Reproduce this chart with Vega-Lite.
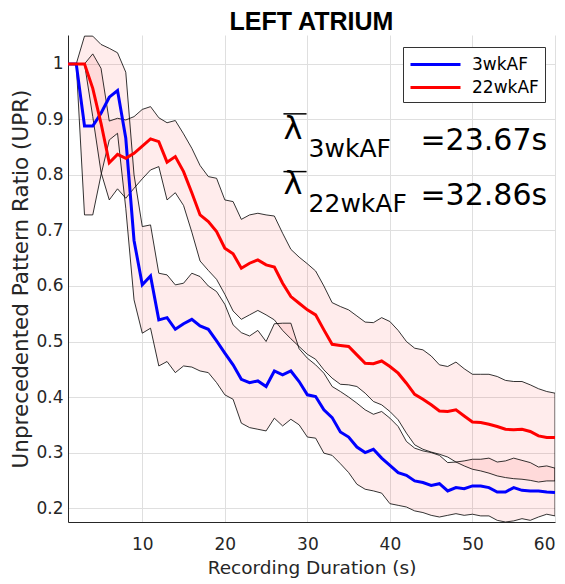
{
  "$schema": "https://vega.github.io/schema/vega-lite/v6.json",
  "width": 487,
  "height": 487,
  "autosize": {"type": "none"},
  "padding": {"left": 68, "top": 35, "right": 10, "bottom": 62},
  "background": "white",
  "title": {"text": "LEFT ATRIUM", "fontSize": 25, "font": "Liberation Sans", "fontWeight": "bold", "color": "black", "anchor": "middle", "baseline": "alphabetic", "offset": 5, "dy": 25},
  "config": {
    "view": {"stroke": null},
    "axis": {
      "labelFont": "DejaVu Sans", "labelFontSize": 17, "labelColor": "#262626",
      "titleFont": "DejaVu Sans", "titleFontSize": 18.5, "titleFontWeight": "normal", "titleColor": "#262626",
      "domainColor": "#262626", "domainWidth": 1,
      "gridColor": "#dfdfdf", "gridWidth": 1,
      "ticks": false, "tickSize": 0
    }
  },
  "datasets": {
    "d": [
      {"t":1,"g":"3wkAF","m":1.0,"lo":1.0,"hi":1.0},
      {"t":2,"g":"3wkAF","m":1.0,"lo":1.0,"hi":1.0},
      {"t":3,"g":"3wkAF","m":0.888,"lo":0.728,"hi":1.05},
      {"t":4,"g":"3wkAF","m":0.888,"lo":0.728,"hi":1.05},
      {"t":5,"g":"3wkAF","m":0.911,"lo":0.80,"hi":1.035},
      {"t":6,"g":"3wkAF","m":0.94,"lo":0.863,"hi":1.028},
      {"t":7,"g":"3wkAF","m":0.952,"lo":0.875,"hi":1.02},
      {"t":8,"g":"3wkAF","m":0.866,"lo":0.74,"hi":0.985},
      {"t":9,"g":"3wkAF","m":0.682,"lo":0.575,"hi":0.80},
      {"t":10,"g":"3wkAF","m":0.602,"lo":0.515,"hi":0.707},
      {"t":11,"g":"3wkAF","m":0.618,"lo":0.524,"hi":0.71},
      {"t":12,"g":"3wkAF","m":0.539,"lo":0.456,"hi":0.623},
      {"t":13,"g":"3wkAF","m":0.543,"lo":0.464,"hi":0.62},
      {"t":14,"g":"3wkAF","m":0.522,"lo":0.444,"hi":0.602},
      {"t":15,"g":"3wkAF","m":0.532,"lo":0.456,"hi":0.605},
      {"t":16,"g":"3wkAF","m":0.54,"lo":0.454,"hi":0.623},
      {"t":17,"g":"3wkAF","m":0.528,"lo":0.447,"hi":0.617},
      {"t":18,"g":"3wkAF","m":0.522,"lo":0.444,"hi":0.60},
      {"t":19,"g":"3wkAF","m":0.501,"lo":0.426,"hi":0.59},
      {"t":20,"g":"3wkAF","m":0.479,"lo":0.404,"hi":0.567},
      {"t":21,"g":"3wkAF","m":0.458,"lo":0.396,"hi":0.53},
      {"t":22,"g":"3wkAF","m":0.432,"lo":0.353,"hi":0.516},
      {"t":23,"g":"3wkAF","m":0.426,"lo":0.345,"hi":0.51},
      {"t":24,"g":"3wkAF","m":0.429,"lo":0.342,"hi":0.52},
      {"t":25,"g":"3wkAF","m":0.419,"lo":0.339,"hi":0.50},
      {"t":26,"g":"3wkAF","m":0.447,"lo":0.362,"hi":0.532},
      {"t":27,"g":"3wkAF","m":0.44,"lo":0.348,"hi":0.533},
      {"t":28,"g":"3wkAF","m":0.447,"lo":0.36,"hi":0.533},
      {"t":29,"g":"3wkAF","m":0.428,"lo":0.35,"hi":0.487},
      {"t":30,"g":"3wkAF","m":0.404,"lo":0.328,"hi":0.47},
      {"t":31,"g":"3wkAF","m":0.401,"lo":0.326,"hi":0.458},
      {"t":32,"g":"3wkAF","m":0.377,"lo":0.299,"hi":0.443},
      {"t":33,"g":"3wkAF","m":0.363,"lo":0.295,"hi":0.419},
      {"t":34,"g":"3wkAF","m":0.337,"lo":0.28,"hi":0.41},
      {"t":35,"g":"3wkAF","m":0.328,"lo":0.264,"hi":0.40},
      {"t":36,"g":"3wkAF","m":0.31,"lo":0.243,"hi":0.389},
      {"t":37,"g":"3wkAF","m":0.30,"lo":0.234,"hi":0.377},
      {"t":38,"g":"3wkAF","m":0.306,"lo":0.231,"hi":0.369},
      {"t":39,"g":"3wkAF","m":0.29,"lo":0.227,"hi":0.374},
      {"t":40,"g":"3wkAF","m":0.277,"lo":0.208,"hi":0.362},
      {"t":41,"g":"3wkAF","m":0.264,"lo":0.205,"hi":0.347},
      {"t":42,"g":"3wkAF","m":0.259,"lo":0.202,"hi":0.32},
      {"t":43,"g":"3wkAF","m":0.249,"lo":0.195,"hi":0.308},
      {"t":44,"g":"3wkAF","m":0.246,"lo":0.192,"hi":0.303},
      {"t":45,"g":"3wkAF","m":0.241,"lo":0.187,"hi":0.30},
      {"t":46,"g":"3wkAF","m":0.244,"lo":0.184,"hi":0.295},
      {"t":47,"g":"3wkAF","m":0.231,"lo":0.187,"hi":0.282},
      {"t":48,"g":"3wkAF","m":0.237,"lo":0.19,"hi":0.283},
      {"t":49,"g":"3wkAF","m":0.235,"lo":0.187,"hi":0.285},
      {"t":50,"g":"3wkAF","m":0.24,"lo":0.189,"hi":0.288},
      {"t":51,"g":"3wkAF","m":0.24,"lo":0.186,"hi":0.288},
      {"t":52,"g":"3wkAF","m":0.237,"lo":0.186,"hi":0.29},
      {"t":53,"g":"3wkAF","m":0.229,"lo":0.178,"hi":0.283},
      {"t":54,"g":"3wkAF","m":0.229,"lo":0.175,"hi":0.285},
      {"t":55,"g":"3wkAF","m":0.237,"lo":0.177,"hi":0.29},
      {"t":56,"g":"3wkAF","m":0.232,"lo":0.181,"hi":0.286},
      {"t":57,"g":"3wkAF","m":0.231,"lo":0.178,"hi":0.282},
      {"t":58,"g":"3wkAF","m":0.231,"lo":0.184,"hi":0.274},
      {"t":59,"g":"3wkAF","m":0.229,"lo":0.189,"hi":0.276},
      {"t":60,"g":"3wkAF","m":0.228,"lo":0.186,"hi":0.272},
      {"t":1,"g":"22wkAF","m":1.0,"lo":1.0,"hi":1.0},
      {"t":2,"g":"22wkAF","m":1.0,"lo":1.0,"hi":1.0},
      {"t":3,"g":"22wkAF","m":1.0,"lo":1.0,"hi":1.0},
      {"t":4,"g":"22wkAF","m":0.956,"lo":0.905,"hi":1.018},
      {"t":5,"g":"22wkAF","m":0.893,"lo":0.805,"hi":0.992},
      {"t":6,"g":"22wkAF","m":0.822,"lo":0.755,"hi":0.897},
      {"t":7,"g":"22wkAF","m":0.837,"lo":0.775,"hi":0.902},
      {"t":8,"g":"22wkAF","m":0.83,"lo":0.758,"hi":0.899},
      {"t":9,"g":"22wkAF","m":0.839,"lo":0.776,"hi":0.905},
      {"t":10,"g":"22wkAF","m":0.852,"lo":0.793,"hi":0.918},
      {"t":11,"g":"22wkAF","m":0.865,"lo":0.809,"hi":0.923},
      {"t":12,"g":"22wkAF","m":0.86,"lo":0.815,"hi":0.903},
      {"t":13,"g":"22wkAF","m":0.823,"lo":0.755,"hi":0.894},
      {"t":14,"g":"22wkAF","m":0.833,"lo":0.768,"hi":0.898},
      {"t":15,"g":"22wkAF","m":0.806,"lo":0.745,"hi":0.874},
      {"t":16,"g":"22wkAF","m":0.768,"lo":0.697,"hi":0.848},
      {"t":17,"g":"22wkAF","m":0.728,"lo":0.645,"hi":0.817},
      {"t":18,"g":"22wkAF","m":0.716,"lo":0.628,"hi":0.797},
      {"t":19,"g":"22wkAF","m":0.698,"lo":0.612,"hi":0.794},
      {"t":20,"g":"22wkAF","m":0.668,"lo":0.585,"hi":0.755},
      {"t":21,"g":"22wkAF","m":0.658,"lo":0.555,"hi":0.752},
      {"t":22,"g":"22wkAF","m":0.632,"lo":0.54,"hi":0.72},
      {"t":23,"g":"22wkAF","m":0.641,"lo":0.548,"hi":0.728},
      {"t":24,"g":"22wkAF","m":0.647,"lo":0.556,"hi":0.731},
      {"t":25,"g":"22wkAF","m":0.638,"lo":0.548,"hi":0.728},
      {"t":26,"g":"22wkAF","m":0.634,"lo":0.539,"hi":0.726},
      {"t":27,"g":"22wkAF","m":0.605,"lo":0.52,"hi":0.695},
      {"t":28,"g":"22wkAF","m":0.581,"lo":0.505,"hi":0.666},
      {"t":29,"g":"22wkAF","m":0.569,"lo":0.491,"hi":0.652},
      {"t":30,"g":"22wkAF","m":0.557,"lo":0.477,"hi":0.64},
      {"t":31,"g":"22wkAF","m":0.548,"lo":0.468,"hi":0.627},
      {"t":32,"g":"22wkAF","m":0.521,"lo":0.449,"hi":0.60},
      {"t":33,"g":"22wkAF","m":0.495,"lo":0.434,"hi":0.57},
      {"t":34,"g":"22wkAF","m":0.493,"lo":0.423,"hi":0.563},
      {"t":35,"g":"22wkAF","m":0.491,"lo":0.422,"hi":0.557},
      {"t":36,"g":"22wkAF","m":0.476,"lo":0.419,"hi":0.546},
      {"t":37,"g":"22wkAF","m":0.461,"lo":0.407,"hi":0.535},
      {"t":38,"g":"22wkAF","m":0.46,"lo":0.392,"hi":0.534},
      {"t":39,"g":"22wkAF","m":0.465,"lo":0.386,"hi":0.543},
      {"t":40,"g":"22wkAF","m":0.455,"lo":0.374,"hi":0.536},
      {"t":41,"g":"22wkAF","m":0.443,"lo":0.359,"hi":0.52},
      {"t":42,"g":"22wkAF","m":0.425,"lo":0.335,"hi":0.50},
      {"t":43,"g":"22wkAF","m":0.405,"lo":0.314,"hi":0.488},
      {"t":44,"g":"22wkAF","m":0.396,"lo":0.306,"hi":0.485},
      {"t":45,"g":"22wkAF","m":0.386,"lo":0.301,"hi":0.474},
      {"t":46,"g":"22wkAF","m":0.375,"lo":0.297,"hi":0.458},
      {"t":47,"g":"22wkAF","m":0.374,"lo":0.292,"hi":0.455},
      {"t":48,"g":"22wkAF","m":0.377,"lo":0.283,"hi":0.463},
      {"t":49,"g":"22wkAF","m":0.366,"lo":0.276,"hi":0.451},
      {"t":50,"g":"22wkAF","m":0.355,"lo":0.27,"hi":0.441},
      {"t":51,"g":"22wkAF","m":0.354,"lo":0.267,"hi":0.441},
      {"t":52,"g":"22wkAF","m":0.351,"lo":0.263,"hi":0.441},
      {"t":53,"g":"22wkAF","m":0.347,"lo":0.258,"hi":0.437},
      {"t":54,"g":"22wkAF","m":0.342,"lo":0.255,"hi":0.43},
      {"t":55,"g":"22wkAF","m":0.341,"lo":0.253,"hi":0.428},
      {"t":56,"g":"22wkAF","m":0.342,"lo":0.252,"hi":0.428},
      {"t":57,"g":"22wkAF","m":0.338,"lo":0.25,"hi":0.422},
      {"t":58,"g":"22wkAF","m":0.33,"lo":0.247,"hi":0.415},
      {"t":59,"g":"22wkAF","m":0.327,"lo":0.249,"hi":0.41},
      {"t":60,"g":"22wkAF","m":0.327,"lo":0.249,"hi":0.407}
    ],
    "notes": [{"k": "a"}]
  },
  "layer": [
    {
      "data": {"name": "d"},
      "mark": {"type": "area", "fill": "#ff0000", "fillOpacity": 0.075, "clip": true},
      "encoding": {
        "x": {"field": "t", "type": "quantitative", "title": "Recording Duration (s)",
              "scale": {"domain": [1, 60], "nice": false, "zero": false},
              "axis": {"values": [10, 20, 30, 40, 50, 60], "labelPadding": 14, "titlePadding": 6, "grid": true}},
        "y": {"field": "lo", "type": "quantitative", "title": "Unprecedented Pattern Ratio (UPR)",
              "scale": {"domain": [0.175, 1.052], "nice": false, "zero": false},
              "axis": {"values": [0.2, 0.3, 0.4, 0.5, 0.6, 0.7, 0.8, 0.9, 1], "format": "~g", "labelPadding": 5, "titlePadding": 3, "titleFontSize": 21.5, "grid": true}},
        "y2": {"field": "hi"},
        "detail": {"field": "g"}
      }
    },
    {
      "data": {"name": "d"},
      "mark": {"type": "line", "color": "black", "strokeWidth": 0.8, "clip": true},
      "encoding": {
        "x": {"field": "t", "type": "quantitative", "title": "Recording Duration (s)"},
        "y": {"field": "lo", "type": "quantitative", "title": "Unprecedented Pattern Ratio (UPR)"},
        "detail": {"field": "g"}
      }
    },
    {
      "data": {"name": "d"},
      "mark": {"type": "line", "color": "black", "strokeWidth": 0.8, "clip": true},
      "encoding": {
        "x": {"field": "t", "type": "quantitative", "title": "Recording Duration (s)"},
        "y": {"field": "hi", "type": "quantitative", "title": "Unprecedented Pattern Ratio (UPR)"},
        "detail": {"field": "g"}
      }
    },
    {
      "data": {"name": "d"},
      "transform": [{"filter": "datum.t == 60"}],
      "mark": {"type": "rule", "color": "black", "strokeWidth": 0.8, "clip": true},
      "encoding": {
        "x": {"field": "t", "type": "quantitative", "title": "Recording Duration (s)"},
        "y": {"field": "lo", "type": "quantitative", "title": "Unprecedented Pattern Ratio (UPR)"},
        "y2": {"field": "hi"}
      }
    },
    {
      "data": {"name": "d"},
      "mark": {"type": "line", "strokeWidth": 3, "clip": true},
      "encoding": {
        "x": {"field": "t", "type": "quantitative", "title": "Recording Duration (s)"},
        "y": {"field": "m", "type": "quantitative", "title": "Unprecedented Pattern Ratio (UPR)"},
        "color": {"field": "g", "type": "nominal",
          "scale": {"domain": ["3wkAF", "22wkAF"], "range": ["#0000ff", "#ff0000"]},
          "legend": {"orient": "none", "legendX": 335, "legendY": 12, "title": null,
            "symbolType": "M-1,0H4", "symbolSize": 400, "symbolStrokeWidth": 3,
            "labelFont": "DejaVu Sans", "labelFontSize": 17, "labelColor": "black", "labelOffset": 40,
            "fillColor": "white", "strokeColor": "#333333", "padding": 6, "rowPadding": 3, "cornerRadius": 0}}
      }
    },
    {
      "data": {"name": "notes"},
      "mark": {"type": "text", "text": "λ", "font": "DejaVu Sans", "fontSize": 32, "align": "left", "baseline": "alphabetic", "color": "black"},
      "encoding": {
        "x": {"datum": 27.1, "type": "quantitative"},
        "y": {"datum": 0.865, "type": "quantitative"}
      }
    },
    {
      "data": {"name": "notes"},
      "mark": {"type": "text", "text": "λ", "font": "DejaVu Sans", "fontSize": 32, "align": "left", "baseline": "alphabetic", "color": "black"},
      "encoding": {
        "x": {"datum": 27.1, "type": "quantitative"},
        "y": {"datum": 0.766, "type": "quantitative"}
      }
    },
    {
      "data": {"name": "notes"},
      "mark": {"type": "rule", "color": "black", "strokeWidth": 1.5},
      "encoding": {
        "x": {"datum": 27.1, "type": "quantitative"},
        "x2": {"datum": 29.9},
        "y": {"datum": 0.91, "type": "quantitative"}
      }
    },
    {
      "data": {"name": "notes"},
      "mark": {"type": "rule", "color": "black", "strokeWidth": 1.5},
      "encoding": {
        "x": {"datum": 27.1, "type": "quantitative"},
        "x2": {"datum": 29.9},
        "y": {"datum": 0.806, "type": "quantitative"}
      }
    },
    {
      "data": {"name": "notes"},
      "mark": {"type": "text", "text": "3wkAF", "font": "DejaVu Sans", "fontSize": 25, "align": "left", "baseline": "alphabetic", "color": "black"},
      "encoding": {
        "x": {"datum": 30.15, "type": "quantitative"},
        "y": {"datum": 0.832, "type": "quantitative"}
      }
    },
    {
      "data": {"name": "notes"},
      "mark": {"type": "text", "text": "22wkAF", "font": "DejaVu Sans", "fontSize": 25, "align": "left", "baseline": "alphabetic", "color": "black"},
      "encoding": {
        "x": {"datum": 30.15, "type": "quantitative"},
        "y": {"datum": 0.733, "type": "quantitative"}
      }
    },
    {
      "data": {"name": "notes"},
      "mark": {"type": "text", "text": "=23.67s", "font": "DejaVu Sans", "fontSize": 30, "align": "left", "baseline": "alphabetic", "color": "black"},
      "encoding": {
        "x": {"datum": 43.7, "type": "quantitative"},
        "y": {"datum": 0.845, "type": "quantitative"}
      }
    },
    {
      "data": {"name": "notes"},
      "mark": {"type": "text", "text": "=32.86s", "font": "DejaVu Sans", "fontSize": 30, "align": "left", "baseline": "alphabetic", "color": "black"},
      "encoding": {
        "x": {"datum": 43.7, "type": "quantitative"},
        "y": {"datum": 0.746, "type": "quantitative"}
      }
    }
  ]
}
